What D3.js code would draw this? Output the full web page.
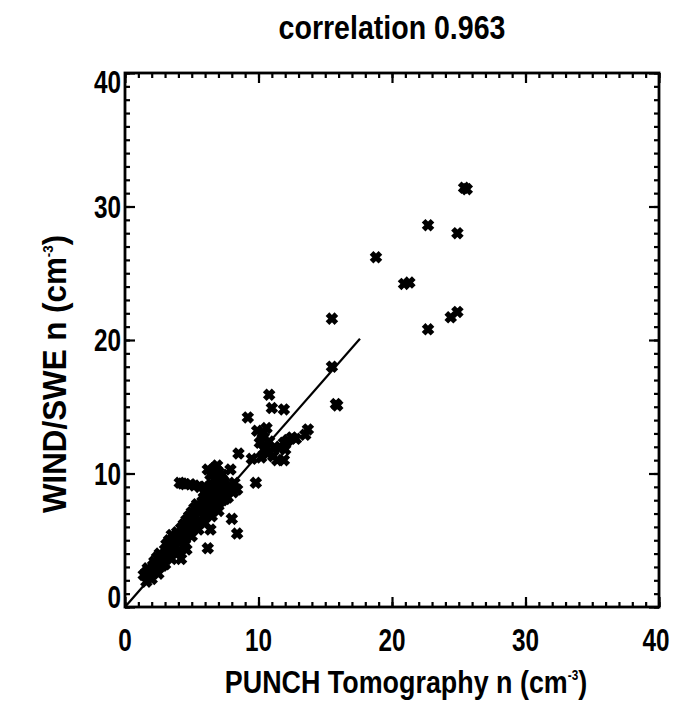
<!DOCTYPE html>
<html>
<head>
<meta charset="utf-8">
<script src="https://cdn.jsdelivr.net/npm/d3@7"></script>
<style>
  body { margin: 0; background: #fff; }
  text { font-family: "Liberation Sans", Arial, sans-serif; font-weight: bold; fill: #000; }
</style>
</head>
<body>
<div id="chart"></div>
<script>
// values (PUNCH tomography vs WIND/SWE density, cm^-3)
var punchN = [
  25.4, 25.6, 22.7, 24.9, 18.8, 20.9, 21.3, 22.7, 24.4, 24.9, 15.5, 15.5, 15.8, 15.9,
  10.8, 11.0, 11.9, 9.2,
  13.7, 13.5, 12.5, 12.2, 11.9, 11.6, 9.9, 10.6, 10.4, 10.1, 10.6, 10.7, 11.1, 11.4, 11.9, 10.4, 10.3, 10.8, 12.8, 12.0, 10.2, 11.2,
  8.5, 9.5, 9.8, 7.9, 8.4, 8.0, 8.4, 6.2, 6.4, 4.2,
  4.1, 4.5, 4.9, 5.2, 5.6, 5.9, 4.3,
  6.2, 6.7, 7.0, 6.9, 7.2, 6.7, 7.0, 7.5, 6.7, 7.6, 7.9, 7.2, 7.5, 6.4, 6.9, 7.3, 7.1, 6.5, 7.4,
  1.4, 1.6, 1.8, 1.7, 2.0, 2.1, 2.3, 2.2, 2.5, 2.4, 2.7, 2.6, 2.9, 3.0, 3.2, 3.1, 3.4, 3.3, 3.6, 3.5,
  3.8, 3.9, 4.0, 4.1, 4.3, 4.2, 4.5, 4.4, 4.7, 4.6, 4.9, 4.8, 5.1, 5.0, 5.3, 5.2, 5.5, 5.4, 5.7, 5.8,
  6.0, 5.9, 6.2, 6.1, 6.4, 6.3, 6.6, 6.5, 6.8, 6.9, 7.1, 6.0, 5.6, 6.6, 7.0, 3.7, 2.8, 4.8, 7.3, 7.7,
  8.1, 8.2, 7.8,
  2.5, 3.0, 3.5, 4.0, 4.5, 5.0, 5.5, 6.0, 6.5, 7.0, 2.0, 1.6, 4.6,
  3.2, 4.4, 5.3, 6.2, 6.8, 7.4
];
var windN = [
  31.4, 31.3, 28.6, 28.0, 26.2, 24.2, 24.3, 20.8, 21.7, 22.1, 21.6, 18.0, 15.2, 15.1,
  15.9, 14.9, 14.8, 14.2,
  13.3, 12.9, 12.7, 12.5, 12.3, 12.0, 13.2, 13.4, 12.7, 12.3, 12.0, 11.5, 11.3, 11.0, 11.0, 11.8, 13.0, 12.4, 12.6, 11.8, 11.2, 11.9,
  11.5, 11.1, 9.3, 10.3, 8.8, 6.6, 5.5, 4.4, 5.8, 3.6,
  9.3, 9.2, 9.2, 9.1, 9.0, 9.0, 9.25,
  10.3, 10.4, 10.1, 9.8, 9.6, 9.5, 9.2, 8.9, 8.8, 8.6, 9.1, 8.5, 8.1, 9.9, 10.6, 9.9, 8.9, 9.2, 9.4,
  2.4, 2.6, 2.5, 2.9, 2.8, 3.1, 2.9, 3.4, 3.2, 3.7, 3.5, 4.0, 3.8, 4.3, 4.0, 4.7, 4.5, 5.0, 4.8, 5.4,
  5.1, 5.6, 4.9, 5.4, 5.2, 5.9, 5.6, 6.2, 5.9, 6.5, 6.2, 6.8, 6.5, 7.1, 6.8, 7.4, 7.1, 7.7, 7.3, 7.9,
  7.5, 8.2, 7.8, 8.4, 8.1, 8.7, 8.3, 8.9, 8.5, 8.0, 8.3, 6.8, 6.4, 7.4, 7.8, 4.2, 3.1, 5.6, 8.0, 8.2,
  8.6, 9.3, 8.8,
  2.5, 3.2, 3.6, 4.2, 4.7, 5.3, 5.8, 6.3, 6.8, 7.2, 2.1, 1.9, 4.3,
  4.1, 5.5, 6.1, 7.2, 7.6, 8.5
];
// fitted line end points
var fitX = [0, 17.6];
var fitY = [0, 20.1];
var majorTicks = [0, 10, 20, 30, 40];
var title = "correlation 0.963";

var width = 692, height = 701;
var pLeft = 125, pRight = 659, pTop = 73, pBottom = 607;

var svg = d3.select("#chart").append("svg")
    .attr("width", width)
    .attr("height", height);

var x = d3.scaleLinear().domain([0, 40]).range([pLeft, pRight]);
var y = d3.scaleLinear().domain([0, 40]).range([pBottom, pTop]);

// ticks point inward on all four sides
function drawAxis(axisFn, scale, tx, ty) {
  svg.append("g").attr("transform", "translate(" + tx + "," + ty + ")")
    .call(axisFn(scale).tickValues(d3.range(0, 41)).tickSize(-5).tickFormat(""))
    .call(g => g.select(".domain").remove())
    .selectAll("line").attr("stroke-width", 2.2);
  svg.append("g").attr("transform", "translate(" + tx + "," + ty + ")")
    .call(axisFn(scale).tickValues(majorTicks).tickSize(-10).tickFormat(""))
    .call(g => g.select(".domain").remove())
    .selectAll("line").attr("stroke-width", 2.2);
}
drawAxis(d3.axisBottom, x, 0, pBottom);
drawAxis(d3.axisTop, x, 0, pTop);
drawAxis(d3.axisLeft, y, pLeft, 0);
drawAxis(d3.axisRight, y, pRight, 0);

svg.append("rect")
    .attr("x", pLeft).attr("y", pTop)
    .attr("width", pRight - pLeft).attr("height", pBottom - pTop)
    .attr("fill", "none").attr("stroke", "#000").attr("stroke-width", 2.8);

// tick labels (condensed bold like IDL Helvetica)
svg.append("g").selectAll("text")
    .data(majorTicks)
    .enter().append("text")
    .attr("transform", d => "translate(" + (x(d) - (d === 40 ? 3 : 0)) + ",651) scale(0.76,1)")
    .attr("text-anchor", "middle")
    .style("font-size", "32px")
    .text(d => d);

// end labels sit a little inside the frame, as in the original
svg.append("g").selectAll("text")
    .data(majorTicks)
    .enter().append("text")
    .attr("transform", d => "translate(121," + (y(d) + 11 + (d === 0 ? -10 : d === 40 ? 9 : 0)) + ") scale(0.76,1)")
    .attr("text-anchor", "end")
    .style("font-size", "32px")
    .text(d => d);

// title
svg.append("text")
    .attr("transform", "translate(392,39) scale(0.84,1)")
    .attr("text-anchor", "middle")
    .style("font-size", "34px")
    .text(title);

// axis titles
var xt = svg.append("text")
    .attr("transform", "translate(406,693) scale(0.84,1)")
    .attr("text-anchor", "middle")
    .style("font-size", "32px");
xt.append("tspan").text("PUNCH Tomography n (cm");
xt.append("tspan").attr("dy", -13).style("font-size", "14px").text("-3");
xt.append("tspan").attr("dy", 13).text(")");

var yt = svg.append("text")
    .attr("transform", "translate(66,374) rotate(-90) scale(0.95,1)")
    .attr("text-anchor", "middle")
    .style("font-size", "33px");
yt.append("tspan").text("WIND/SWE n (cm");
yt.append("tspan").attr("dy", -13).style("font-size", "14px").text("-3");
yt.append("tspan").attr("dy", 13).text(")");

// fit line
svg.append("line")
    .attr("x1", x(fitX[0])).attr("y1", y(fitY[0]))
    .attr("x2", x(fitX[1])).attr("y2", y(fitY[1]))
    .attr("stroke", "#000").attr("stroke-width", 2.2);

// thick X symbols (IDL psym 7), chunky like the original print
var s = 2.6;
svg.append("g").selectAll("path")
    .data(punchN)
    .enter().append("path")
    .attr("transform", (d, i) => "translate(" + x(d) + "," + y(windN[i]) + ")")
    .attr("d", "M" + (-s) + "," + (-s) + "L" + s + "," + s + "M" + (-s) + "," + s + "L" + s + "," + (-s))
    .attr("stroke", "#000")
    .attr("stroke-width", 5.2)
    .attr("stroke-linecap", "square");
</script>
</body>
</html>
